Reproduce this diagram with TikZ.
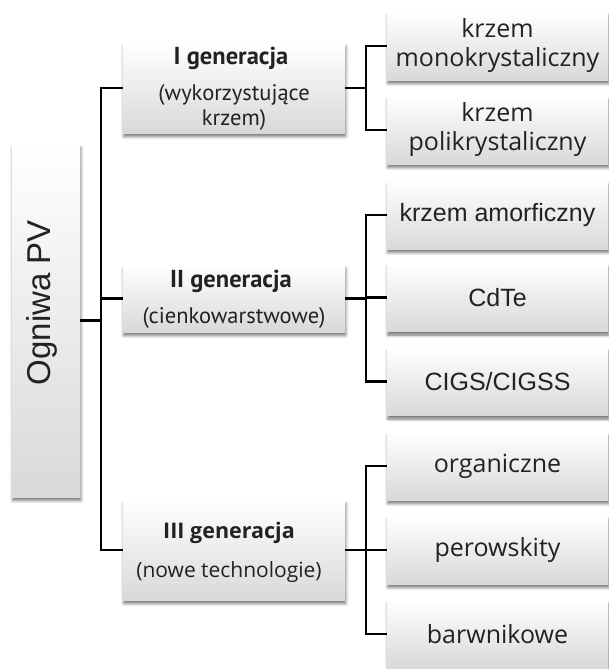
\documentclass[tikz,border=0pt]{standalone}
\usepackage{fontspec}
\setmainfont{Liberation Sans}
\newfontfamily\ptsans{PT Sans}
\newfontfamily\osans{Open Sans}
\usetikzlibrary{shadows.blur,calc}
\definecolor{txt}{HTML}{222222}
\tikzset{
  box/.style={top color=white, bottom color=black!15, inner sep=0pt, align=center, text=txt,
    blur shadow={shadow xshift=0.8pt, shadow yshift=-3.5pt, shadow blur radius=3pt, shadow opacity=55}},
  genbox/.style={box, minimum width=222pt},
  leaf/.style={box, minimum width=221pt, minimum height=68pt},
  lbl/.style={text=txt, inner sep=0pt, align=center},
  gtitle/.style={lbl, font=\ptsans\bfseries\fontsize{24.5}{28}\selectfont},
  gsub/.style={lbl, font=\ptsans\fontsize{22.5}{25}\selectfont},
  atitle/.style={lbl, font=\osans\bfseries\fontsize{21.5}{25}\selectfont},
  asub/.style={lbl, font=\osans\fontsize{21}{25}\selectfont},
  afont/.style={font=\osans\fontsize{25}{29}\selectfont},
  lfont/.style={font=\fontsize{25}{29}\selectfont},
  conn/.style={line width=2.4pt, black, line join=miter}
}
\begin{document}
\begin{tikzpicture}[x=1pt,y=-1pt]
\useasboundingbox (0,0) rectangle (608,669);
% root
\node[box, minimum width=68pt, minimum height=353pt] (root) at (46,320.5) {};
\node[lbl, rotate=90, font=\fontsize{33}{38}\selectfont] (roott) at (42,302.5) {Ogniwa PV};
% generations
\node[genbox, minimum height=90pt] (g1) at (234,88) {};
\node[gtitle] (g1t) at (231,58) {I generacja};
\node[gsub] (g1s) at (234,107.5) {(wykorzystujące\\krzem)};
\node[genbox, minimum height=67pt] (g2) at (234,298.5) {};
\node[gtitle] (g2t) at (231,281) {II generacja};
\node[gsub] (g2s) at (234,318) {(cienkowarstwowe)};
\node[genbox, minimum height=100pt] (g3) at (234,550) {};
\node[atitle] (g3t) at (229,533) {III generacja};
\node[asub] (g3s) at (229,572) {(nowe technologie)};
% leaves
\node[leaf, afont] (c1) at (497.5,46) {krzem\\monokrystaliczny};
\node[leaf, afont] (c2) at (497.5,130) {krzem\\polikrystaliczny};
\node[leaf, lfont] (c3) at (497.5,215) {krzem amorficzny};
\node[leaf, lfont] (c4) at (497.5,297.5) {CdTe};
\node[leaf, lfont] (c5) at (497.5,381.5) {CIGS/CIGSS};
\node[leaf, afont] (c6) at (497.5,466) {organiczne};
\node[leaf, afont] (c7) at (497.5,550) {perowskity};
\node[leaf, afont] (c8) at (497.5,634) {barwnikowe};
% connectors
\coordinate (t) at (101,0);
\coordinate (s) at (366,0);
\draw[conn] (root.east) -- (root.east -| t);
\draw[conn] (g1.west) -- (g1.west -| t) -- (g3.west -| t) -- (g3.west);
\draw[conn] (g2.west) -- (g2.west -| t);
\draw[conn] (g1.east) -- (g1.east -| s);
\draw[conn] (c1.west) -- (c1.west -| s) -- (c2.west -| s) -- (c2.west);
\draw[conn] (g2.east) -- (g2.east -| s);
\draw[conn] (c3.west) -- (c3.west -| s) -- (c5.west -| s) -- (c5.west);
\draw[conn] (c4.west) -- (c4.west -| s);
\draw[conn] (g3.east) -- (g3.east -| s);
\draw[conn] (c6.west) -- (c6.west -| s) -- (c8.west -| s) -- (c8.west);
\draw[conn] (c7.west) -- (c7.west -| s);
\end{tikzpicture}
\end{document}
